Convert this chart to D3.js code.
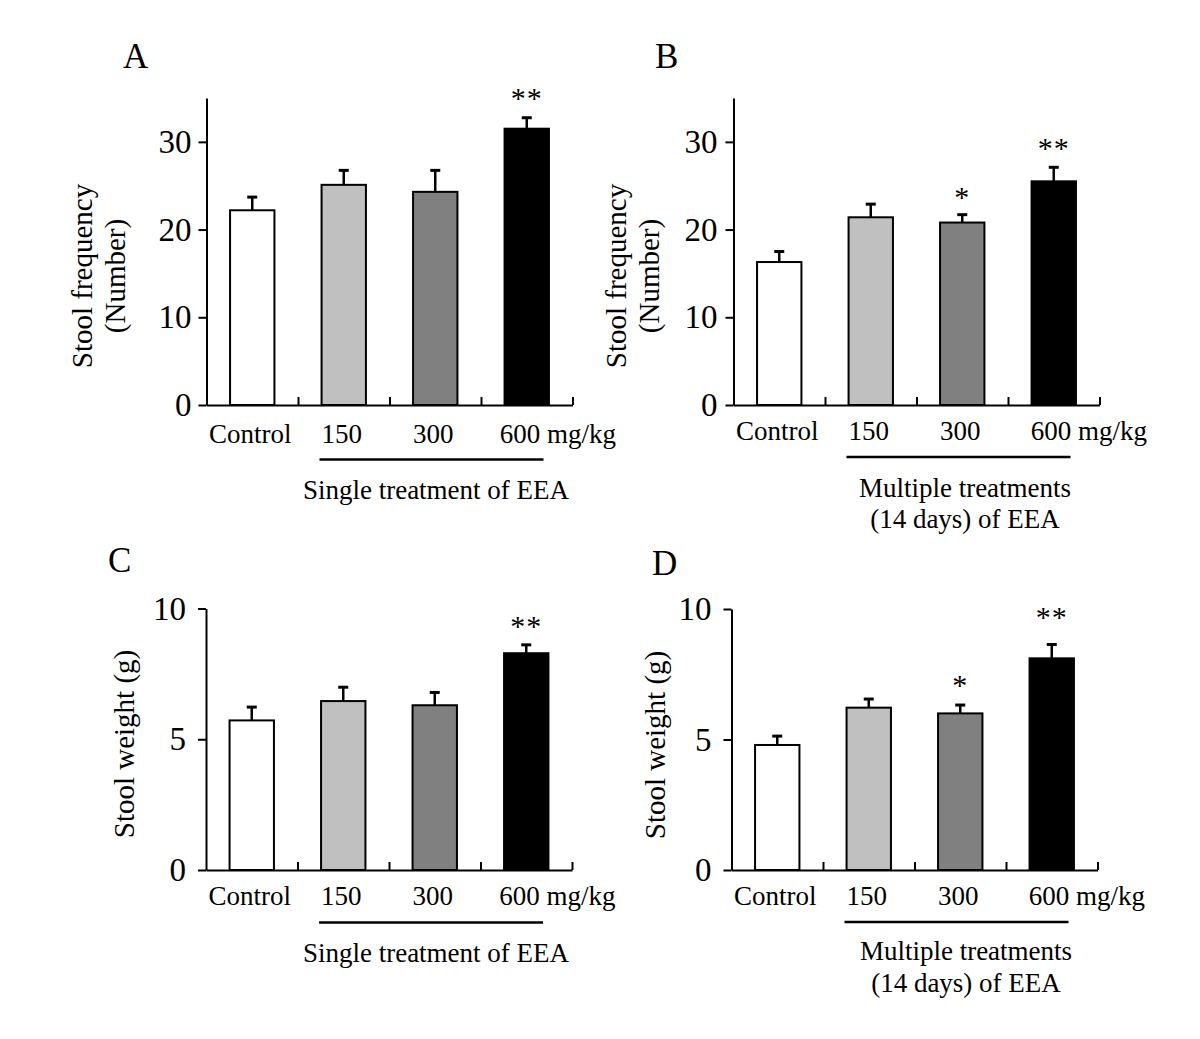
<!DOCTYPE html>
<html>
<head>
<meta charset="utf-8">
<script src="https://cdn.jsdelivr.net/npm/d3@7"></script>
<style>
  html, body { margin: 0; padding: 0; background: #fff; }
  svg text { font-family: "Liberation Serif", "Times New Roman", serif; fill: #000; }
</style>
</head>
<body>
<svg id="chart" width="1200" height="1039"></svg>
<script>
// ---------- data ----------
const categories = ["Control", "150", "300", "600"];
const unitLabel = "mg/kg";
const barColors = ["#ffffff", "#c0c0c0", "#808080", "#000000"];

const freqSingleMean = [22.2, 25.1, 24.3, 31.5];
const freqSingleErr  = [1.5, 1.65, 2.45, 1.25];
const freqSingleSig  = ["", "", "", "**"];

const freqMultiMean = [16.3, 21.4, 20.8, 25.5];
const freqMultiErr  = [1.2, 1.5, 0.9, 1.6];
const freqMultiSig  = ["", "", "*", "**"];

const weightSingleMean = [5.72, 6.46, 6.30, 8.29];
const weightSingleErr  = [0.51, 0.53, 0.49, 0.32];
const weightSingleSig  = ["", "", "", "**"];

const weightMultiMean = [4.79, 6.22, 6.00, 8.11];
const weightMultiErr  = [0.34, 0.33, 0.32, 0.53];
const weightMultiSig  = ["", "", "*", "**"];

const freqTicks = [0, 10, 20, 30];
const weightTicks = [0, 5, 10];

const freqTitle = ["Stool frequency", "(Number)"];
const weightTitle = ["Stool weight (g)"];
const singleGroup = ["Single treatment of EEA"];
const multiGroup = ["Multiple treatments", "(14 days) of EEA"];

// ---------- layout ----------
const panels = [
  { letter: "A", lx: 123, ly: 68, x0: 206.5, y0: 405, top: 98, max: 35, ticks: freqTicks,
    mean: freqSingleMean, err: freqSingleErr, sig: freqSingleSig, sigGap: [25, 25, 25, 25],
    title: freqTitle, titleX: [92, 125], titleY: 276, tickPad: 7,
    labelY: 443, lastDx: -27, ulY: 459.5, group: singleGroup, groupX: 436, groupY: [499] },
  { letter: "B", lx: 655, ly: 68, x0: 733.5, y0: 405, top: 98, max: 35, ticks: freqTicks,
    mean: freqMultiMean, err: freqMultiErr, sig: freqMultiSig, sigGap: [24, 24, 23, 24],
    title: freqTitle, titleX: [626, 659], titleY: 276, tickPad: 8,
    labelY: 440, lastDx: -23, ulY: 457, group: multiGroup, groupX: 965, groupY: [497, 528] },
  { letter: "C", lx: 108, ly: 572, x0: 206, y0: 870, top: 608.5, max: 10, ticks: weightTicks,
    mean: weightSingleMean, err: weightSingleErr, sig: weightSingleSig, sigGap: [24, 24, 24, 24],
    title: weightTitle, titleX: [134], titleY: 744, tickPad: 12,
    labelY: 905, lastDx: -27, ulY: 922.5, group: singleGroup, groupX: 436, groupY: [962] },
  { letter: "D", lx: 652, ly: 575, x0: 731.5, y0: 870, top: 609, max: 10, ticks: weightTicks,
    mean: weightMultiMean, err: weightMultiErr, sig: weightMultiSig, sigGap: [25, 25, 25, 32],
    title: weightTitle, titleX: [665], titleY: 745, tickPad: 12,
    labelY: 905, lastDx: -23, ulY: 922, group: multiGroup, groupX: 966, groupY: [960, 992] }
];

const svg = d3.select("#chart");
const plotW = 366;

panels.forEach(p => {
  const g = svg.append("g");

  const x = d3.scaleBand().domain(categories)
    .range([p.x0, p.x0 + plotW]).paddingInner(0.515).paddingOuter(0.2575);
  const y = d3.scaleLinear().domain([0, p.max]).range([p.y0, p.top]);
  const xi = d3.scaleLinear().domain([0, categories.length]).range([p.x0, p.x0 + plotW]);

  // panel letter
  g.append("text").attr("x", p.lx).attr("y", p.ly)
    .attr("font-size", 35).text(p.letter);

  // bars
  g.selectAll("rect.bar").data(categories).join("rect")
    .attr("class", "bar")
    .attr("x", d => x(d))
    .attr("width", x.bandwidth())
    .attr("y", (d, i) => y(p.mean[i]))
    .attr("height", (d, i) => p.y0 - y(p.mean[i]))
    .attr("fill", (d, i) => barColors[i])
    .attr("stroke", "#000").attr("stroke-width", 2);

  // error bars
  const cx = d => x(d) + x.bandwidth() / 2;
  g.selectAll("line.err").data(categories).join("line")
    .attr("x1", cx).attr("x2", cx)
    .attr("y1", (d, i) => y(p.mean[i]))
    .attr("y2", (d, i) => y(p.mean[i] + p.err[i]))
    .attr("stroke", "#000").attr("stroke-width", 2.5);
  g.selectAll("line.cap").data(categories).join("line")
    .attr("x1", d => cx(d) - 5).attr("x2", d => cx(d) + 5)
    .attr("y1", (d, i) => y(p.mean[i] + p.err[i]))
    .attr("y2", (d, i) => y(p.mean[i] + p.err[i]))
    .attr("stroke", "#000").attr("stroke-width", 3);

  // significance
  g.selectAll("text.sig").data(categories).join("text")
    .attr("x", cx)
    .attr("y", (d, i) => y(p.mean[i] + p.err[i]) - p.sigGap[i] + 15)
    .attr("text-anchor", "middle").attr("font-size", 30)
    .attr("letter-spacing", 1)
    .text((d, i) => p.sig[i]);

  // y axis
  const yAxis = g.append("g").attr("transform", `translate(${p.x0},0)`)
    .call(d3.axisLeft(y).tickValues(p.ticks).tickSize(8).tickSizeOuter(0)
      .tickPadding(p.tickPad).tickFormat(d3.format("d")));
  yAxis.select(".domain").attr("stroke-width", 2);
  yAxis.selectAll(".tick line").attr("stroke-width", 2);
  yAxis.selectAll(".tick text").attr("font-size", 33)
    .attr("font-family", "Liberation Serif, Times New Roman, serif");

  // x axis (tick marks at band edges, pointing up)
  const xAxis = g.append("g").attr("transform", `translate(0,${p.y0})`)
    .call(d3.axisBottom(xi).tickValues(d3.range(1, categories.length + 1))
      .tickSize(-8).tickSizeOuter(0).tickFormat(""));
  xAxis.select(".domain").attr("stroke-width", 2);
  xAxis.selectAll(".tick line").attr("stroke-width", 2);

  // category labels
  categories.forEach((c, i) => {
    const last = i === categories.length - 1;
    g.append("text")
      .attr("x", last ? cx(c) + p.lastDx : cx(c) - 2)
      .attr("y", p.labelY)
      .attr("text-anchor", last ? "start" : "middle")
      .attr("font-size", 27)
      .text(last ? c + " " + unitLabel : c);
  });

  // group underline
  g.append("line")
    .attr("x1", p.x0 + 113).attr("x2", p.x0 + 337)
    .attr("y1", p.ulY).attr("y2", p.ulY)
    .attr("stroke", "#000").attr("stroke-width", 2.5);
  p.group.forEach((t, k) => {
    g.append("text").attr("x", p.groupX).attr("y", p.groupY[k])
      .attr("text-anchor", "middle").attr("font-size", 27).text(t);
  });

  // y title
  p.title.forEach((t, k) => {
    g.append("text")
      .attr("transform", `translate(${p.titleX[k]},${p.titleY}) rotate(-90)`)
      .attr("text-anchor", "middle").attr("font-size", 29).text(t);
  });
});
</script>
</body>
</html>
